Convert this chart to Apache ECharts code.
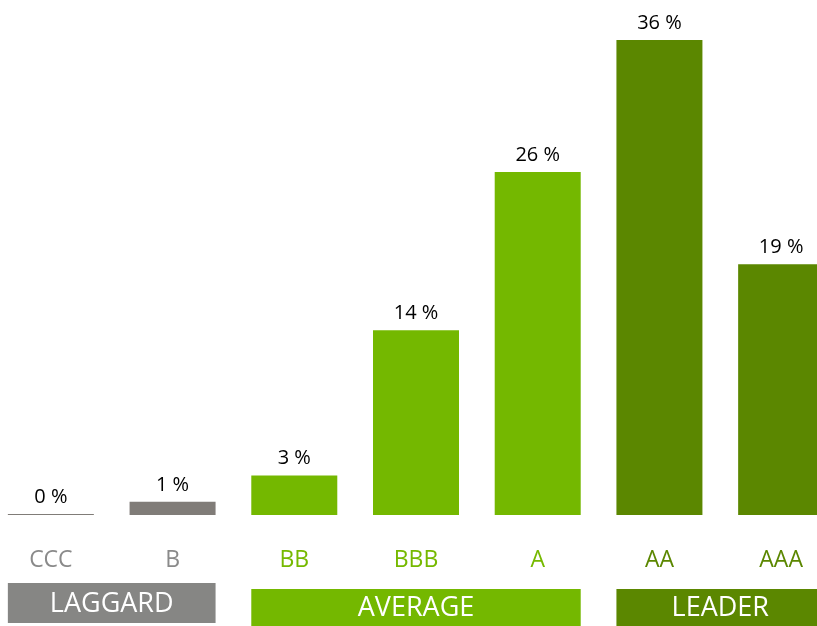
<!DOCTYPE html>
<html>
<head>
<meta charset="utf-8">
<script src="https://cdn.jsdelivr.net/npm/echarts@6/dist/echarts.min.js"></script>
<style>
html,body{margin:0;padding:0;background:#fff;}
#c{width:817px;height:626px;}
</style>
</head>
<body>
<div id="c"></div>
<script>
// ---- data ----
var categories = ['CCC', 'B', 'BB', 'BBB', 'A', 'AA', 'AAA'];
var values = [0, 1, 3, 14, 26, 36, 19];
var categoryGroup = [0, 0, 1, 1, 1, 2, 2];
var groupNames = ['LAGGARD', 'AVERAGE', 'LEADER'];
var groupStart = [0, 2, 5];
var groupEnd = [1, 4, 6];

// ---- styles ----
var barColors = ['#807c78', '#74b800', '#5b8700'];
var labelColors = ['#8a8a8a', '#76b900', '#5b8700'];
var boxColors = ['#868684', '#74b800', '#5b8700'];
var boxTop = [68, 74, 74];
var boxHeight = [40, 37, 37];
var BAR_W = 86;

var chart = echarts.init(document.getElementById('c'), null, {renderer: 'canvas'});

var barData = values.map(function (v, i) {
  return {value: v, itemStyle: {color: barColors[categoryGroup[i]]}};
});
var groupData = groupNames.map(function (n, i) {
  return [groupStart[i], groupEnd[i], i];
});

chart.setOption({
  animation: false,
  grid: {left: -10, width: 852, top: 40, bottom: 111, containLabel: false, outerBoundsMode: 'none'},
  xAxis: {
    type: 'category',
    data: categories,
    axisLine: {show: false},
    axisTick: {show: false},
    axisLabel: {
      margin: 34,
      fontSize: 23,
      fontFamily: 'Open Sans',
      color: function (val, idx) { return labelColors[categoryGroup[idx]]; }
    }
  },
  yAxis: {type: 'value', min: 0, max: 36, show: false, splitLine: {show: false}},
  series: [{
    type: 'bar',
    data: barData,
    barWidth: BAR_W,
    barMinHeight: 1,
    label: {
      show: true,
      position: 'top',
      distance: 7,
      fontSize: 20,
      fontFamily: 'Open Sans',
      color: '#000',
      formatter: function (p) { return p.value + ' %'; }
    }
  }, {
    type: 'custom',
    clip: false,
    data: groupData,
    encode: {x: [0, 1]},
    renderItem: function (params, api) {
      var gi = api.value(2);
      var cs = params.coordSys;
      var base = cs.y + cs.height;
      var x0 = api.coord([api.value(0), 0])[0] - BAR_W / 2;
      var x1 = api.coord([api.value(1), 0])[0] + BAR_W / 2;
      var y0 = base + boxTop[gi];
      var h = boxHeight[gi];
      return {
        type: 'group',
        children: [{
          type: 'rect',
          shape: {x: x0, y: y0, width: x1 - x0, height: h},
          style: {fill: boxColors[gi]}
        }, {
          type: 'text',
          style: {
            x: (x0 + x1) / 2, y: y0 + h / 2 + 1,
            text: groupNames[gi],
            fill: '#fff',
            font: '27px "Open Sans"',
            align: 'center',
            verticalAlign: 'middle'
          }
        }]
      };
    }
  }]
});
</script>
</body>
</html>
